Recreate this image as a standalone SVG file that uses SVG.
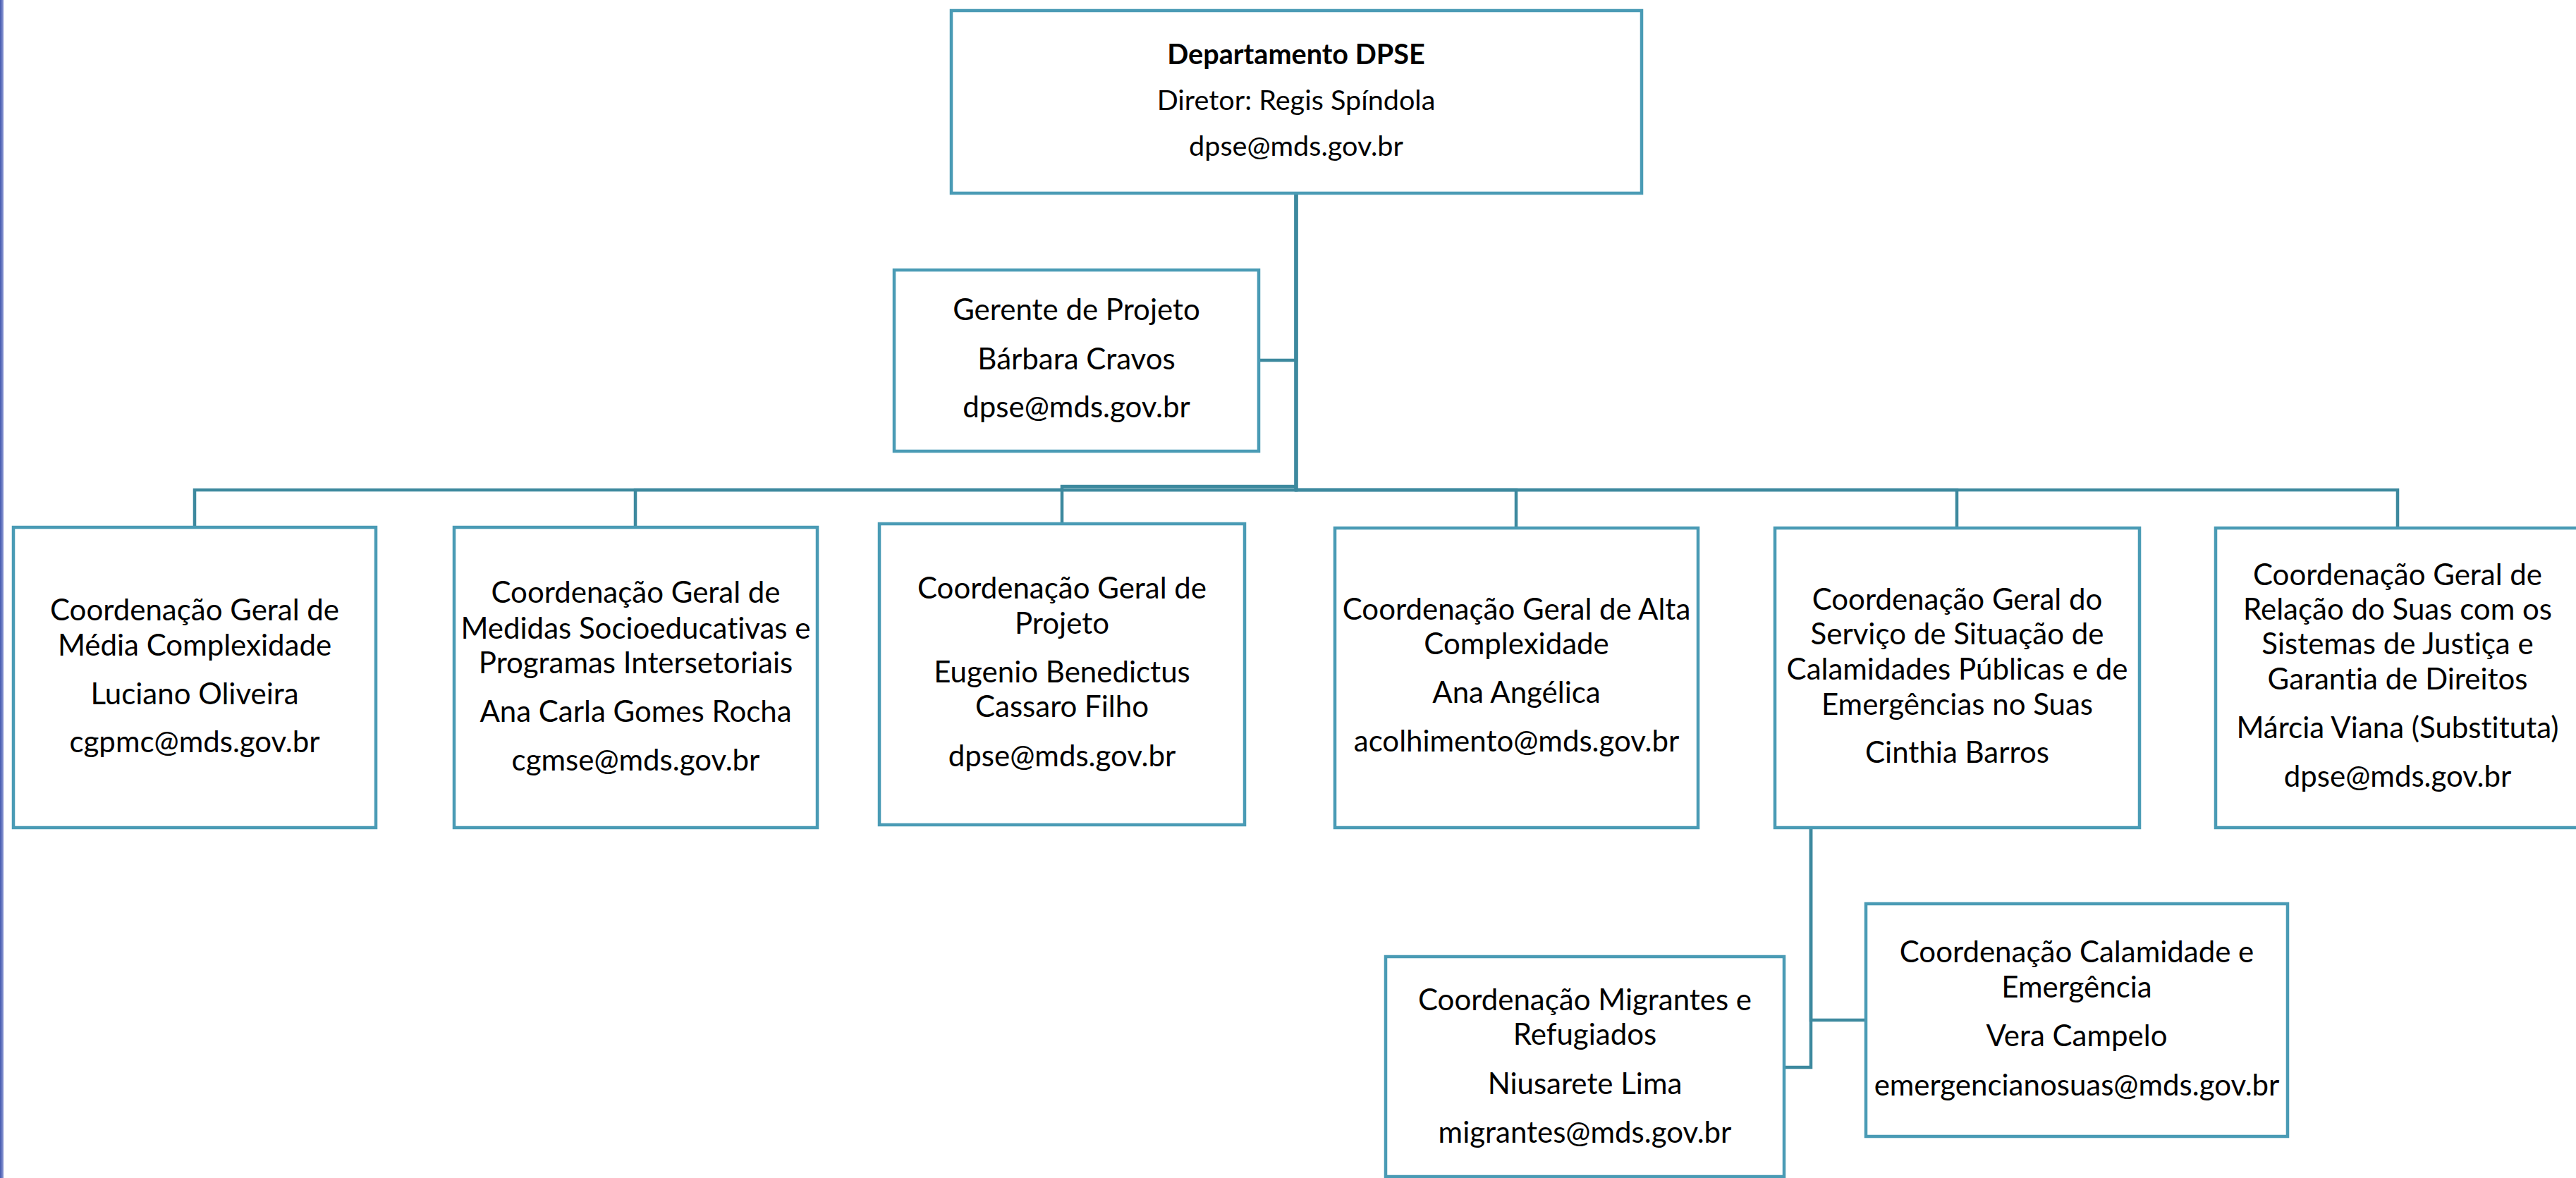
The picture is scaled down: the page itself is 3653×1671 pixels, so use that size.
<svg xmlns="http://www.w3.org/2000/svg" width="3653" height="1671" viewBox="0 0 3653 1671">
<style>
.box{fill:#ffffff;stroke:#4A9BB5;stroke-width:4.5}
.conn{fill:none;stroke:#3D899E;stroke-width:4.5}
.t{font-family:Lato,"Liberation Sans",sans-serif;font-size:42px;text-anchor:middle;fill:#000000;font-variant-ligatures:none;font-feature-settings:"liga" 0,"clig" 0}
.s{font-size:39.6px}
.b{font-weight:bold}
</style>
<defs>
<linearGradient id="edge" x1="0" y1="0" x2="1" y2="0">
<stop offset="0" stop-color="#4458AE"/>
<stop offset="1" stop-color="#8E9BD6"/>
</linearGradient>
</defs>
<rect x="0" y="0" width="3653" height="1671" fill="#ffffff"/>
<rect x="0" y="0" width="5" height="1671" fill="url(#edge)"/>
<g id="connectors">
<path class="conn" d="M1838 274 V695 H276 V748"/>
<path class="conn" d="M1838 274 V695 H901 V748"/>
<path class="conn" d="M1838 274 V690 H1506 V743"/>
<path class="conn" d="M1838 274 V695 H2150 V749"/>
<path class="conn" d="M1838 274 V695 H2775 V749"/>
<path class="conn" d="M1838 274 V695 H3400 V749"/>
<path class="conn" d="M1838 274 V511 H1785"/>
<path class="conn" d="M2568 1174 V1514 H2530"/>
<path class="conn" d="M2568 1174 V1447 H2646"/>
</g>
<g id="node-dpse">
<rect class="box" x="1349" y="15" width="979" height="259"/>
<text class="t s b" x="1838" y="91">Departamento DPSE</text>
<text class="t s" x="1838" y="156">Diretor: Regis Spíndola</text>
<text class="t s" x="1838" y="221">dpse@mds.gov.br</text>
</g>
<g id="node-gerente">
<rect class="box" x="1268" y="383" width="517" height="257"/>
<text class="t" x="1526.5" y="454">Gerente de Projeto</text>
<text class="t" x="1526.5" y="524">Bárbara Cravos</text>
<text class="t" x="1526.5" y="592">dpse@mds.gov.br</text>
</g>
<g id="node-media">
<rect class="box" x="19" y="748" width="514" height="426"/>
<text class="t" x="276" y="880">Coordenação Geral de</text>
<text class="t" x="276" y="930">Média Complexidade</text>
<text class="t" x="276" y="999">Luciano Oliveira</text>
<text class="t" x="276" y="1067">cgpmc@mds.gov.br</text>
</g>
<g id="node-medidas">
<rect class="box" x="644" y="748" width="515" height="426"/>
<text class="t" x="901.5" y="855">Coordenação Geral de</text>
<text class="t" x="901.5" y="906">Medidas Socioeducativas e</text>
<text class="t" x="901.5" y="955">Programas Intersetoriais</text>
<text class="t" x="901.5" y="1024">Ana Carla Gomes Rocha</text>
<text class="t" x="901.5" y="1093">cgmse@mds.gov.br</text>
</g>
<g id="node-projeto">
<rect class="box" x="1247" y="743" width="518" height="427"/>
<text class="t" x="1506" y="849">Coordenação Geral de</text>
<text class="t" x="1506" y="899">Projeto</text>
<text class="t" x="1506" y="968">Eugenio Benedictus</text>
<text class="t" x="1506" y="1017">Cassaro Filho</text>
<text class="t" x="1506" y="1087">dpse@mds.gov.br</text>
</g>
<g id="node-alta">
<rect class="box" x="1893" y="749" width="515" height="425"/>
<text class="t" x="2150.5" y="879">Coordenação Geral de Alta</text>
<text class="t" x="2150.5" y="928">Complexidade</text>
<text class="t" x="2150.5" y="997">Ana Angélica</text>
<text class="t" x="2150.5" y="1066">acolhimento@mds.gov.br</text>
</g>
<g id="node-calamidades">
<rect class="box" x="2517" y="749" width="517" height="425"/>
<text class="t" x="2775.5" y="865">Coordenação Geral do</text>
<text class="t" x="2775.5" y="914">Serviço de Situação de</text>
<text class="t" x="2775.5" y="964">Calamidades Públicas e de</text>
<text class="t" x="2775.5" y="1014">Emergências no Suas</text>
<text class="t" x="2775.5" y="1082">Cinthia Barros</text>
</g>
<g id="node-justica">
<rect class="box" x="3142" y="749" width="516" height="425"/>
<text class="t" x="3400" y="830">Coordenação Geral de</text>
<text class="t" x="3400" y="879">Relação do Suas com os</text>
<text class="t" x="3400" y="928">Sistemas de Justiça e</text>
<text class="t" x="3400" y="978">Garantia de Direitos</text>
<text class="t" x="3400" y="1047">Márcia Viana (Substituta)</text>
<text class="t" x="3400" y="1116">dpse@mds.gov.br</text>
</g>
<g id="node-migrantes">
<rect class="box" x="1965" y="1357" width="565" height="312"/>
<text class="t" x="2247.5" y="1433">Coordenação Migrantes e</text>
<text class="t" x="2247.5" y="1482">Refugiados</text>
<text class="t" x="2247.5" y="1552">Niusarete Lima</text>
<text class="t" x="2247.5" y="1621">migrantes@mds.gov.br</text>
</g>
<g id="node-calamidade">
<rect class="box" x="2646" y="1282" width="598" height="330"/>
<text class="t" x="2945" y="1365">Coordenação Calamidade e</text>
<text class="t" x="2945" y="1415">Emergência</text>
<text class="t" x="2945" y="1484">Vera Campelo</text>
<text class="t" x="2945" y="1554">emergencianosuas@mds.gov.br</text>
</g>
</svg>
